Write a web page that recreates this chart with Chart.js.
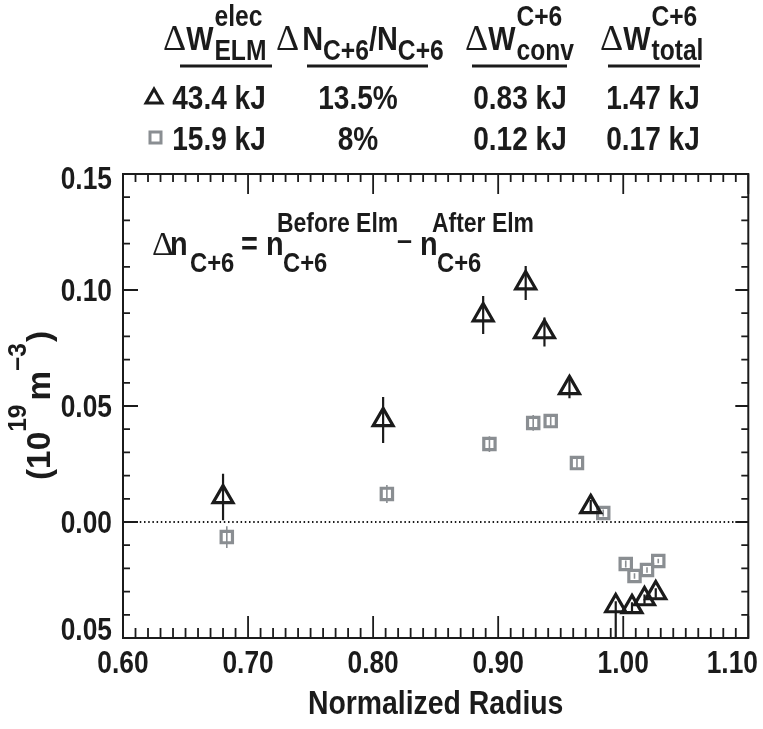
<!DOCTYPE html>
<html><head><meta charset="utf-8">
<script src="https://cdn.jsdelivr.net/npm/chart.js@4.4.1/dist/chart.umd.min.js"></script>
<style>html,body{margin:0;padding:0;background:#fff;overflow:hidden}#wrap{position:relative;width:763px;height:729px}</style>
</head><body><div id="wrap"><canvas id="c" width="763" height="729"></canvas></div>
<script>
// ---- data ----
const triRadius   = [0.680, 0.808, 0.888, 0.922, 0.937, 0.957, 0.974, 0.994, 1.007, 1.017, 1.026];
const triDn       = [0.0108, 0.0440, 0.0892, 0.1030, 0.0819, 0.0578, 0.0065, -0.0362, -0.0366, -0.0332, -0.0306];
const triErrUp    = [0.0100, 0.0099, 0.0082, 0.0073, 0.0063, 0.0045, 0.0030, 0.0020, 0.0020, 0.0020, 0.0020];
const triErrDown  = [0.0100, 0.0099, 0.0082, 0.0073, 0.0063, 0.0045, 0.0030, 0.0250, 0.0020, 0.0020, 0.0020];
const sqRadius    = [0.683, 0.811, 0.893, 0.928, 0.942, 0.963, 0.984, 1.002, 1.009, 1.019, 1.028];
const sqDn        = [-0.0065, 0.0121, 0.0336, 0.0427, 0.0435, 0.0254, 0.0039, -0.0181, -0.0233, -0.0207, -0.0168];
const sqErr       = [0.0047, 0.0039, 0.0034, 0.0034, 0.0020, 0.0020, 0.0015, 0.0015, 0.0012, 0.0012, 0.0010];
const xTickValues = [0.60, 0.70, 0.80, 0.90, 1.00, 1.10];
const xTickLabels = ['0.60', '0.70', '0.80', '0.90', '1.00', '1.10'];
const yTickValues = [-0.05, 0.00, 0.05, 0.10, 0.15];
const yTickLabels = ['0.05', '0.00', '0.05', '0.10', '0.15'];
const rowTriangle = ['43.4 kJ', '13.5%', '0.83 kJ', '1.47 kJ'];
const rowSquare   = ['15.9 kJ', '8%', '0.12 kJ', '0.17 kJ'];
const xTitle = 'Normalized Radius';

// ---- styling ----
const SANS = '"Liberation Sans", Arial, sans-serif';
const SERIF = '"Liberation Serif", "DejaVu Serif", serif';
const INK = '#1b1b1b';
const GRAY = '#8a8e92';
const SX = 0.85; // horizontal condensing of the bold sans text

function ntext(ctx, s, x, y, font, align, sx) {
  sx = sx || SX;
  ctx.font = font;
  const w = ctx.measureText(s).width * sx;
  const left = align === 'center' ? x - w / 2 : align === 'right' ? x - w : x;
  ctx.save(); ctx.textAlign = 'left'; ctx.translate(left, y); ctx.scale(sx, 1);
  ctx.fillText(s, 0, 0); ctx.restore();
  return w;
}
function rich(ctx, x, y, segs, sxAll) {
  let cx = x;
  for (const s of segs) {
    if (s.stack) {
      let w = 0;
      for (const p of s.stack) w = Math.max(w, ntext(ctx, p.t, cx, y + p.dy, p.f, 'left', p.sx || sxAll));
      cx += w + (s.gap || 0);
    } else {
      cx += ntext(ctx, s.t, cx, y + (s.dy || 0), s.f, 'left', s.sx || sxAll) + (s.gap || 0);
    }
  }
  return cx;
}

const decor = {
  id: 'decor',
  beforeDatasetsDraw(chart) {
    const {ctx, chartArea: a, scales: {x, y}} = chart;
    ctx.save();
    ctx.beginPath(); ctx.rect(a.left, a.top, a.right - a.left, a.bottom - a.top); ctx.clip();
    ctx.strokeStyle = INK; ctx.lineWidth = 2; ctx.setLineDash([1.5, 2.7]);
    const y0 = y.getPixelForValue(0);
    ctx.beginPath(); ctx.moveTo(a.left, y0); ctx.lineTo(a.right, y0); ctx.stroke();
    ctx.setLineDash([]);
    ctx.lineWidth = 2.2; ctx.strokeStyle = INK;
    triRadius.forEach((r, i) => {
      const px = x.getPixelForValue(r);
      ctx.beginPath();
      ctx.moveTo(px, y.getPixelForValue(triDn[i] + triErrUp[i]));
      ctx.lineTo(px, y.getPixelForValue(triDn[i] - triErrDown[i]));
      ctx.stroke();
    });
    ctx.lineWidth = 1.6; ctx.strokeStyle = GRAY;
    sqRadius.forEach((r, i) => {
      const px = x.getPixelForValue(r);
      ctx.beginPath();
      ctx.moveTo(px, y.getPixelForValue(sqDn[i] + sqErr[i]));
      ctx.lineTo(px, y.getPixelForValue(sqDn[i] - sqErr[i]));
      ctx.stroke();
    });
    ctx.restore();
  },
  afterDraw(chart) {
    const {ctx, chartArea: a, scales: {x, y}} = chart;
    ctx.save();
    ctx.strokeStyle = INK; ctx.fillStyle = INK;
    ctx.textBaseline = 'alphabetic';
    // frame
    ctx.lineWidth = 2;
    ctx.strokeRect(a.left, a.top, a.right - a.left, a.bottom - a.top);
    // minor / major ticks, pointing inward
    ctx.lineWidth = 1.8;
    for (let k = 0; k <= 50; k++) {
      const px = x.getPixelForValue(0.60 + k * 0.01);
      const major = k % 10 === 0;
      ctx.beginPath();
      ctx.moveTo(px, a.bottom); ctx.lineTo(px, a.bottom - (major ? 22 : 10));
      ctx.moveTo(px, a.top); ctx.lineTo(px, a.top + (major ? 20 : 8));
      ctx.stroke();
    }
    for (let k = 0; k <= 20; k++) {
      const py = y.getPixelForValue(-0.05 + k * 0.01);
      const major = k % 5 === 0;
      ctx.beginPath();
      ctx.moveTo(a.left, py); ctx.lineTo(a.left + (major ? 15 : 7), py);
      ctx.moveTo(a.right, py); ctx.lineTo(a.right - (major ? 13 : 7), py);
      ctx.stroke();
    }
    // tick labels from the scales
    const TF = 'bold 31px ' + SANS;
    xTickValues.forEach((v, i) => {
      let cx = x.getPixelForValue(v);
      ctx.font = TF;
      const w = ctx.measureText(xTickLabels[i]).width * SX;
      if (cx + w / 2 > 758) cx = 758 - w / 2;
      ntext(ctx, xTickLabels[i], cx, 673, TF, 'center');
    });
    yTickValues.forEach((v, i) => {
      let cy = y.getPixelForValue(v);
      cy = Math.max(a.top + 4, Math.min(a.bottom - 9, cy));
      ntext(ctx, yTickLabels[i], 112, cy + 11, TF, 'right');
    });
    // x axis title
    ntext(ctx, xTitle, (a.left + a.right) / 2, 714, 'bold 33px ' + SANS, 'center', 0.86);

    // y axis title (rotated, with superscripts)
    ctx.save();
    ctx.translate(50, 480);
    ctx.rotate(-Math.PI / 2);
    const MF = 'bold 34px ' + SANS, SF = 'bold 25px ' + SANS;
    rich(ctx, 0, 0, [
      {t: '(10', f: MF}, {t: '19', f: SF, dy: -24, gap: 4},
      {t: 'm', f: MF}, {t: '\u22123', f: SF, dy: -24, gap: 1}, {t: ')', f: MF}
    ], 0.98);
    ctx.restore();

    // annotation inside plot
    const BIG = 'bold 34px ' + SANS, SUB = 'bold 28px ' + SANS, SUP = 'bold 27px ' + SANS;
    const DEL = '34px ' + SERIF;
    const ab = 255;
    ntext(ctx, '\u0394', 152, ab, DEL, 'left', 1);
    ntext(ctx, 'n', 170, ab, BIG, 'left');
    ntext(ctx, 'C+6', 190, ab + 17, SUB, 'left');
    ntext(ctx, '=', 241, ab, BIG, 'left');
    ntext(ctx, 'n', 266, ab, BIG, 'left');
    ntext(ctx, 'Before Elm', 277, ab - 23, SUP, 'left');
    ntext(ctx, 'C+6', 283, ab + 17, SUB, 'left');
    ntext(ctx, '\u2013', 397, ab - 6, 'bold 27px ' + SANS, 'left', 1);
    ntext(ctx, 'n', 420, ab, BIG, 'left');
    ntext(ctx, 'After Elm', 432, ab - 23, SUP, 'left');
    ntext(ctx, 'C+6', 437, ab + 17, SUB, 'left');

    // header table
    const HW = 'bold 34px ' + SANS, HS = 'bold 29px ' + SANS, HD = '36px ' + SERIF;
    const hb = 50;
    rich(ctx, 163, hb, [{t: '\u0394', f: HD, sx: 1}, {t: 'W', f: HW, gap: 1},
      {stack: [{t: 'elec', f: HS, dy: -24}, {t: 'ELM', f: HS, dy: 10}]}]);
    rich(ctx, 276, hb, [{t: '\u0394', f: HD, sx: 1, gap: 3}, {t: 'N', f: HW},
      {t: 'C+6', f: HS, dy: 10}, {t: '/', f: HW}, {t: 'N', f: HW}, {t: 'C+6', f: HS, dy: 10}]);
    rich(ctx, 465, hb, [{t: '\u0394', f: HD, sx: 1}, {t: 'W', f: HW, gap: 1},
      {stack: [{t: 'C+6', f: HS, dy: -24}, {t: 'conv', f: HS, dy: 10}]}]);
    rich(ctx, 600, hb, [{t: '\u0394', f: HD, sx: 1}, {t: 'W', f: HW, gap: 1},
      {stack: [{t: 'C+6', f: HS, dy: -24}, {t: 'total', f: HS, dy: 10}]}]);
    ctx.lineWidth = 3;
    [[180, 272], [307, 428], [472, 567], [608, 700]].forEach(([x0, x1]) => {
      ctx.beginPath(); ctx.moveTo(x0, 66); ctx.lineTo(x1, 66); ctx.stroke();
    });
    const RF = 'bold 33px ' + SANS;
    const cols = [219, 358, 520, 653];
    rowTriangle.forEach((t, i) => ntext(ctx, t, cols[i], 109, RF, 'center'));
    rowSquare.forEach((t, i) => ntext(ctx, t, cols[i], 150, RF, 'center'));
    // legend glyphs
    ctx.lineWidth = 3; ctx.lineJoin = 'miter';
    ctx.beginPath(); ctx.moveTo(154, 89); ctx.lineTo(162, 103); ctx.lineTo(146, 103); ctx.closePath(); ctx.stroke();
    ctx.strokeStyle = GRAY; ctx.lineWidth = 3;
    ctx.strokeRect(150, 132, 11, 11);
    ctx.restore();
  }
};

new Chart(document.getElementById('c'), {
  type: 'scatter',
  data: {
    datasets: [
      {label: 'tri', data: triRadius.map((r, i) => ({x: r, y: triDn[i]})),
       pointStyle: 'triangle', pointRadius: 11.5, pointBorderWidth: 3.2,
       borderColor: INK, backgroundColor: 'rgba(0,0,0,0)'},
      {label: 'sq', data: sqRadius.map((r, i) => ({x: r, y: sqDn[i]})),
       pointStyle: 'rect', pointRadius: 8, pointBorderWidth: 3.2,
       borderColor: GRAY, backgroundColor: 'rgba(0,0,0,0)'}
    ]
  },
  options: {
    responsive: false, animation: false, devicePixelRatio: 1,
    layout: {padding: {top: 174, right: 12, left: 0, bottom: 0}},
    plugins: {legend: {display: false}, tooltip: {enabled: false}},
    scales: {
      x: {
        type: 'linear', min: 0.60, max: 1.10,
        grid: {display: false, drawTicks: false}, border: {display: false},
        afterBuildTicks: s => { s.ticks = xTickValues.map(v => ({value: v})); },
        afterFit: s => { s.height = 91; s.paddingLeft = 0; s.paddingRight = 0; },
        ticks: {display: false}
      },
      y: {
        type: 'linear', min: -0.05, max: 0.15,
        grid: {display: false, drawTicks: false}, border: {display: false},
        afterBuildTicks: s => { s.ticks = yTickValues.map(v => ({value: v})); },
        afterFit: s => { s.width = 123; s.paddingTop = 0; s.paddingBottom = 0; },
        ticks: {display: false}
      }
    }
  },
  plugins: [decor]
});
</script></body></html>
